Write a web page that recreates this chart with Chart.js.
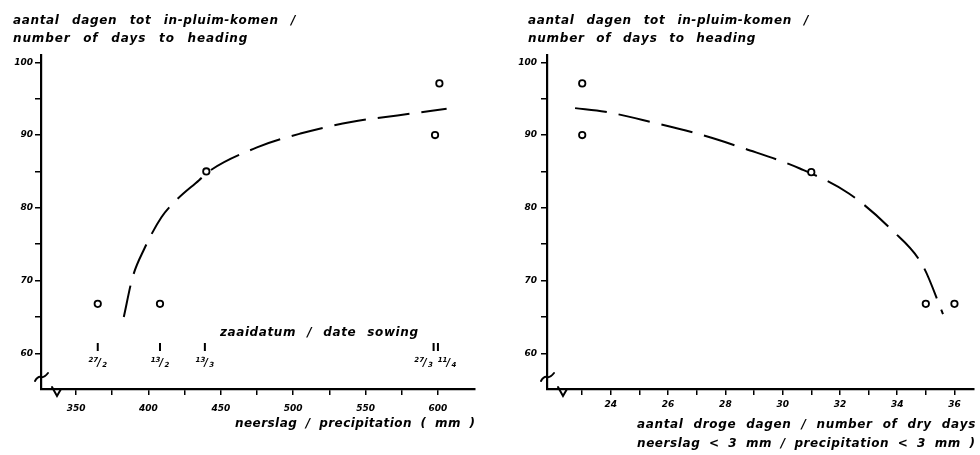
<!DOCTYPE html>
<html>
<head>
<meta charset="utf-8">
<script src="https://cdn.jsdelivr.net/npm/chart.js@4"></script>
<style>
  body { margin: 0; background: #fff; }
  #wrap { position: relative; width: 980px; height: 455px; }
  canvas { position: absolute; top: 0; }
  #precipChart { left: 0; }
  #dryChart { left: 490px; }
</style>
</head>
<body>
<div id="wrap">
  <canvas id="precipChart" width="490" height="455"></canvas>
  <canvas id="dryChart" width="490" height="455"></canvas>
</div>
<script>
// Observations: days to heading vs precipitation (left) and vs dry days (right)
const precipValues = [365, 408, 440, 598, 601];
const precipDays = [66.8, 66.8, 85, 90, 97.1];
// dashed fitted curve
const precipCurveX = [383, 389, 397, 409, 420, 435, 441, 475, 505, 540, 572, 606];
const precipCurveY = [65.0, 70.4, 74.3, 78.7, 81.2, 83.8, 84.9, 88.3, 90.2, 91.8, 92.7, 93.6];

const dryValues = [23, 23, 31, 35, 36];
const dryDays = [97.1, 90, 84.9, 66.8, 66.8];
const dryCurveX = [22.75, 23.8, 25.4, 27.1, 28.7, 30.6, 32.3, 33.8, 34.9, 35.6];
const dryCurveY = [93.7, 93.2, 91.8, 90.1, 88.1, 85.4, 82.0, 77.0, 72.0, 65.4];

// sowing dates marked along the precipitation axis
const sowingPrecip = [365, 408, 439, 597, 600];
const sowingDates = ['27/2', '13/2', '13/3', '27/3', '11/4'];

// ticks
const dayTicks = [60, 65, 70, 75, 80, 85, 90, 95, 100];
const dayLabels = [60, 70, 80, 90, 100];
const precipTicks = [350, 375, 400, 425, 450, 475, 500, 525, 550, 575, 600];
const precipLabels = [350, 400, 450, 500, 550, 600];
const dryTicks = [23, 24, 25, 26, 27, 28, 29, 30, 31, 32, 33, 34, 35, 36];
const dryLabels = [24, 26, 28, 30, 32, 34, 36];

// axis ranges
const dayRange = [55.1, 101];
const precipRange = [325.8, 625.6];
const dryRange = [21.77, 36.69];

const TEXT_FONT = 'italic bold 12px "DejaVu Sans"';
const TICK_FONT = { family: 'DejaVu Sans', size: 9, style: 'italic', weight: 'bold' };

function toPoints(xs, ys) {
  return xs.map((x, i) => ({ x: x, y: ys[i] }));
}

// draw text stretched to a given width: part of the extra room spread over
// the letters, the rest into the word gaps
function fitText(ctx, text, x, y, width) {
  ctx.font = TEXT_FONT;
  const chars = [...text];
  const natural = ctx.measureText(text).width;
  const gaps = chars.filter(c => c === ' ').length;
  const extra = width - natural;
  if (extra <= 0) {
    ctx.save();
    ctx.translate(x, y);
    ctx.scale(width / natural, 1);
    ctx.fillText(text, 0, 0);
    ctx.restore();
    return;
  }
  const perChar = (gaps > 0 ? extra * 0.4 : extra) / (chars.length - 1);
  const perGap = gaps > 0 ? extra * 0.6 / gaps : 0;
  let cx = x;
  chars.forEach(c => {
    ctx.fillText(c, cx, y);
    cx += ctx.measureText(c).width + perChar + (c === ' ' ? perGap : 0);
  });
}

function drawBreaks(ctx, area) {
  const l = area.left, b = area.bottom;
  ctx.save();
  ctx.strokeStyle = '#000';
  ctx.lineWidth = 2;
  ctx.lineCap = 'round';
  // break on the y axis
  ctx.beginPath();
  ctx.moveTo(l - 6, b - 8);
  ctx.quadraticCurveTo(l - 3, b - 13, l, b - 12);
  ctx.quadraticCurveTo(l + 3, b - 11, l + 7, b - 16);
  ctx.stroke();
  // break on the x axis
  ctx.beginPath();
  ctx.moveTo(l + 11, b - 2);
  ctx.lineTo(l + 16, b + 7);
  ctx.lineTo(l + 20, b);
  ctx.stroke();
  ctx.restore();
}

function drawSowing(chart) {
  const ctx = chart.ctx;
  const xs = chart.scales.x;
  const px = sowingPrecip.map(v => xs.getPixelForValue(v));
  ctx.save();
  ctx.fillStyle = '#000';
  px.forEach((p, i) => {
    ctx.fillRect(p - 1, 343, 2, 8);
    let shift = 0;
    if (i < px.length - 1 && px[i + 1] - p < 12) shift = -10;
    if (i > 0 && p - px[i - 1] < 12) shift = 9;
    const parts = sowingDates[i].split('/');
    ctx.font = 'italic bold 7px "DejaVu Sans"';
    const nw = ctx.measureText(parts[0]).width;
    const dw = ctx.measureText(parts[1]).width;
    const sw = 4;
    const start = p + shift - (nw + sw + dw) / 2;
    ctx.fillText(parts[0], start, 362);
    ctx.fillText(parts[1], start + nw + sw, 367);
    ctx.font = 'italic bold 10px "DejaVu Sans"';
    ctx.fillText('/', start + nw - 1, 366);
  });
  ctx.restore();
}

const decorPlugin = {
  id: 'decor',
  afterDraw(chart) {
    const ctx = chart.ctx;
    ctx.save();
    ctx.fillStyle = '#000';
    ctx.textBaseline = 'alphabetic';
    ctx.textAlign = 'left';
    if (chart.canvas.id === 'precipChart') {
      fitText(ctx, 'aantal dagen tot in-pluim-komen /', 13, 24, 282);
      fitText(ctx, 'number of days to heading', 13, 42, 234);
      fitText(ctx, 'zaaidatum / date sowing', 220, 336, 198);
      fitText(ctx, 'neerslag / precipitation ( mm )', 235, 427, 240);
      drawSowing(chart);
    } else {
      fitText(ctx, 'aantal dagen tot in-pluim-komen /', 38, 24, 280);
      fitText(ctx, 'number of days to heading', 38, 42, 227);
      fitText(ctx, 'aantal droge dagen / number of dry days', 147, 428, 338);
      fitText(ctx, 'neerslag < 3 mm / precipitation < 3 mm )', 147, 447, 338);
    }
    drawBreaks(ctx, chart.chartArea);
    ctx.restore();
  }
};

function axisStyle() {
  return {
    grid: { display: true, drawOnChartArea: false, drawTicks: true, tickLength: 6, color: '#000', lineWidth: 1.5 },
    border: { display: true, color: '#000', width: 2.2 }
  };
}

function makeChart(id, opts) {
  return new Chart(document.getElementById(id), {
    type: 'scatter',
    data: {
      datasets: [
        {
          data: toPoints(opts.px, opts.py),
          pointRadius: 3.2,
          pointBorderWidth: 1.8,
          pointBackgroundColor: '#fff',
          pointBorderColor: '#000',
          order: 1
        },
        {
          type: 'line',
          data: toPoints(opts.cx, opts.cy),
          showLine: true,
          borderColor: '#000',
          borderWidth: 2,
          borderDash: [32, 12],
          cubicInterpolationMode: 'monotone',
          pointRadius: 0,
          fill: false,
          order: 2
        }
      ]
    },
    options: {
      responsive: false,
      animation: false,
      events: [],
      layout: { padding: { top: 55, right: opts.padRight, bottom: 0, left: 0 } },
      plugins: { legend: { display: false }, tooltip: { enabled: false } },
      scales: {
        x: Object.assign(axisStyle(), {
          type: 'linear',
          min: opts.xRange[0],
          max: opts.xRange[1],
          afterBuildTicks: s => { s.ticks = opts.xTicks.map(v => ({ value: v })); },
          afterFit: s => { s.height = 66; },
          ticks: {
            autoSkip: false,
            maxRotation: 0,
            color: '#000',
            font: TICK_FONT,
            padding: opts.xPad,
            callback: v => opts.xLabels.includes(v) ? String(v) : ''
          }
        }),
        y: Object.assign(axisStyle(), {
          type: 'linear',
          min: dayRange[0],
          max: dayRange[1],
          afterBuildTicks: s => { s.ticks = dayTicks.map(v => ({ value: v })); },
          afterFit: s => { s.width = opts.yWidth; },
          ticks: {
            autoSkip: false,
            color: '#000',
            font: TICK_FONT,
            padding: opts.yPad,
            callback: v => dayLabels.includes(v) ? String(v) : ''
          }
        })
      }
    },
    plugins: [decorPlugin]
  });
}

makeChart('precipChart', {
  px: precipValues, py: precipDays, cx: precipCurveX, cy: precipCurveY,
  xRange: precipRange, xTicks: precipTicks, xLabels: precipLabels,
  padRight: 15, yWidth: 41, xPad: 8, yPad: 2
});

makeChart('dryChart', {
  px: dryValues, py: dryDays, cx: dryCurveX, cy: dryCurveY,
  xRange: dryRange, xTicks: dryTicks, xLabels: dryLabels,
  padRight: 0, yWidth: 57, xPad: 4, yPad: 4
});
</script>
</body>
</html>
